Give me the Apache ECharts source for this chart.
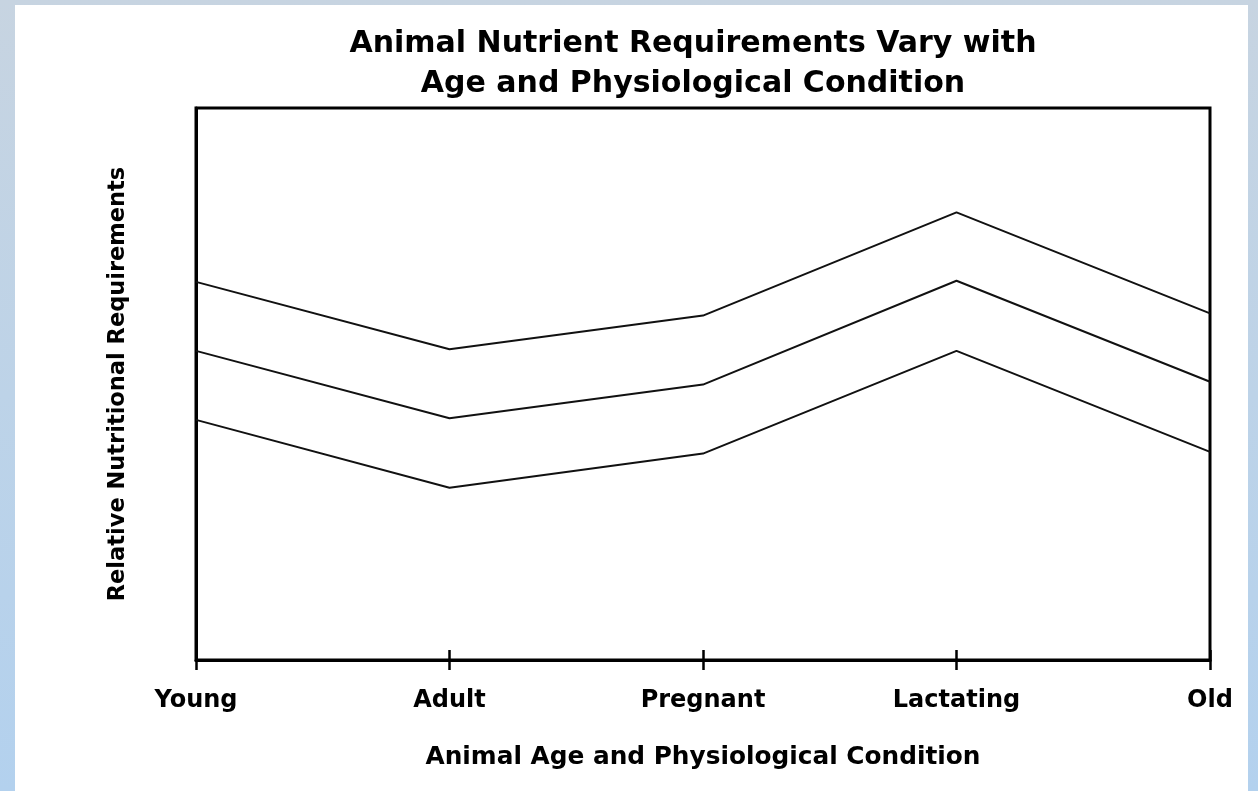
<!DOCTYPE html>
<html>
<head>
<meta charset="utf-8">
<script src="https://cdn.jsdelivr.net/npm/echarts@6/dist/echarts.min.js"></script>
<style>
html,body{margin:0;padding:0;width:1258px;height:791px;overflow:hidden;}
body{background:linear-gradient(180deg,#c7d4e1 0%,#bdd3e8 50%,#b3d1ee 100%);}
#panel{position:absolute;left:15px;top:5px;width:1233px;height:786px;background:#fff;}
#chart{position:absolute;left:0;top:0;width:1258px;height:791px;}
</style>
</head>
<body>
<div id="panel"></div>
<div id="chart"></div>
<script>
const categories = ['Young', 'Adult', 'Pregnant', 'Lactating', 'Old'];
const upperLine = [68.5, 56.3, 62.4, 81.1, 62.8];
const middleLine = [56.0, 43.8, 49.9, 68.7, 50.4];
const lowerLine = [43.5, 31.2, 37.4, 56.0, 37.7];
const titleText = 'Animal Nutrient Requirements Vary with\nAge and Physiological Condition';
const xAxisName = 'Animal Age and Physiological Condition';
const yAxisName = 'Relative Nutritional Requirements';

const FONT = '"DejaVu Sans", "Liberation Sans", Arial, sans-serif';
const chart = echarts.init(document.getElementById('chart'), null, {renderer: 'canvas'});
const lineStyle = {color: '#111', width: 2};
chart.setOption({
  backgroundColor: 'transparent',
  animation: false,
  title: {
    text: titleText,
    left: 688,
    textAlign: 'center',
    top: 19,
    textStyle: {fontFamily: FONT, fontWeight: 'bold', fontSize: 30, lineHeight: 40, color: '#000'}
  },
  grid: {left: 196, right: 48, top: 108, bottom: 131, show: true, borderColor: '#000', borderWidth: 3},
  xAxis: [{
    type: 'category',
    data: categories,
    boundaryGap: false,
    axisLine: {lineStyle: {color: '#000', width: 3}},
    axisTick: {show: true, length: 10, lineStyle: {color: '#000', width: 2.5}},
    axisLabel: {margin: 29, fontFamily: FONT, fontWeight: 'bold', fontSize: 24, color: '#000'},
    name: xAxisName,
    nameLocation: 'middle',
    nameGap: 85,
    nameTextStyle: {fontFamily: FONT, fontWeight: 'bold', fontSize: 24.8, color: '#000'},
    splitLine: {show: false}
  }, {
    type: 'category',
    data: categories,
    boundaryGap: false,
    position: 'bottom',
    axisLine: {show: false},
    axisTick: {show: true, inside: true, length: 10, lineStyle: {color: '#000', width: 2.5}},
    axisLabel: {show: false},
    splitLine: {show: false}
  }],
  yAxis: {
    type: 'value',
    min: 0,
    max: 100,
    axisLine: {show: true, lineStyle: {color: '#000', width: 3}},
    axisTick: {show: false},
    axisLabel: {show: false},
    splitLine: {show: false},
    name: yAxisName,
    nameLocation: 'middle',
    nameRotate: 90,
    nameGap: 66,
    nameTextStyle: {fontFamily: FONT, fontWeight: 'bold', fontSize: 22.5, color: '#000'}
  },
  series: [
    {type: 'line', data: upperLine, symbol: 'none', lineStyle: lineStyle},
    {type: 'line', data: middleLine, symbol: 'none', lineStyle: lineStyle},
    {type: 'line', data: lowerLine, symbol: 'none', lineStyle: lineStyle}
  ]
});
</script>
</body>
</html>
